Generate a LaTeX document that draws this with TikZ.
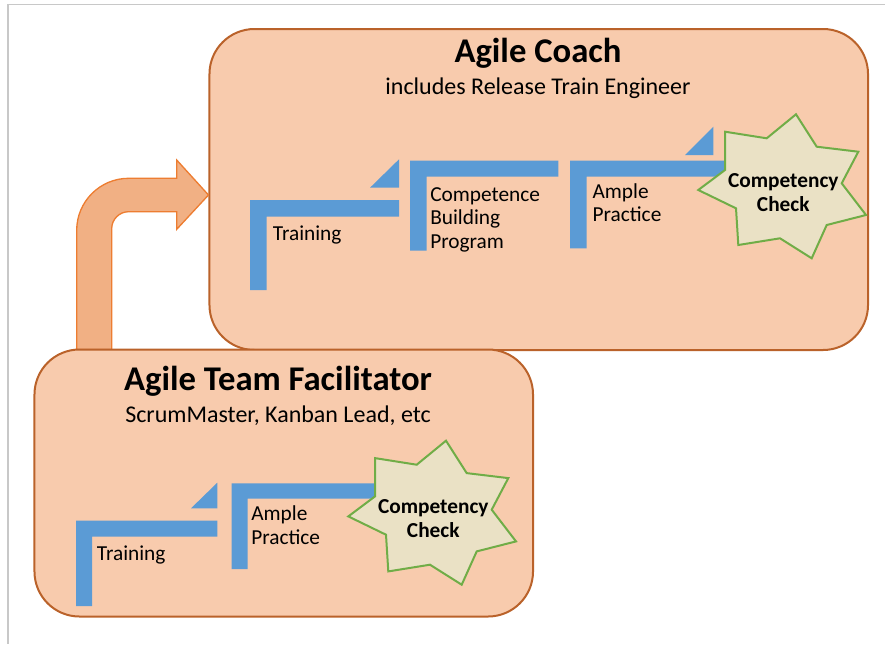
\documentclass[tikz,border=0pt]{standalone}
\usepackage{fontspec}
\setmainfont{Carlito}
\usepackage{tikz}
\definecolor{boxfill}{HTML}{F8CBAD}
\definecolor{boxline}{HTML}{BA622A}
\definecolor{arrowfill}{HTML}{F1B084}
\definecolor{arrowline}{HTML}{ED7D31}
\definecolor{stepcol}{HTML}{5B9BD5}
\definecolor{starfill}{HTML}{EAE1C5}
\definecolor{starline}{HTML}{70AD47}
\definecolor{framecol}{HTML}{C8C8C8}
\tikzset{
  rolebox/.style={draw=boxline, fill=boxfill, line width=1.5pt, rounded corners=33.75pt, inner sep=0pt},
  roletitle/.style={font=\fontsize{26}{30}\selectfont\bfseries, inner sep=0pt, anchor=base},
  rolesub/.style={font=\fontsize{18}{22}\selectfont, inner sep=0pt, anchor=base},
  steplabel/.style={font=\fontsize{16}{17.5}\selectfont, align=left, inner sep=0pt, anchor=base west},
  stepbar/.style={fill=stepcol},
  starlabel/.style={font=\fontsize{16}{18}\selectfont\bfseries, align=center, inner sep=0pt, anchor=base},
  checkstar/.pic={
    \draw[fill=starfill, draw=starline, line width=1.5pt, line join=miter]
      (13,-71.7) -- (33.7,-39.3) -- (75.3,-34.3) -- (58.7,-2.7) -- (83,29)
      -- (43.7,39) -- (28.7,72.3) -- (-3,52.3) -- (-44.7,59) -- (-47,22.3)
      -- (-84.7,4) -- (-58,-16) -- (-58,-54.3) -- (-16.3,-47.7) -- cycle;
    % base is the last line
    \node[starlabel] (-txt) at (0.3,25.3) {Competency\\Check};
  }
}

\begin{document}
\begin{tikzpicture}[x=0.75pt, y=-0.75pt]
\useasboundingbox (0,0) rectangle (885,644);

% Frame
\draw[framecol, line width=1pt] (885,4.5) -- (8,4.5) -- (8,644);

% Agile Coach
\node[rolebox, minimum width=493.9pt, minimum height=240.75pt] (coach) at (538.75,189.5) {};
\node[roletitle] (coachtitle) at (538,62) {Agile Coach};
\node[rolesub] (coachsub) at (538,94.3) {includes Release Train Engineer};

% Bent arrow
\coordinate (arrbase) at (76.7,349.5);
\coordinate (arrtip) at (coach.west |- 0,195);
\filldraw[fill=arrowfill, draw=arrowline, line width=1pt, line join=miter]
  (arrbase) -- (76.7,230.3) arc[start angle=180, end angle=270, radius=52]
  -- (176.7,178.3) -- (176.7,160) -- (arrtip) -- (176.7,229.3) -- (176.7,211.7)
  -- (128.7,211.7) arc[start angle=270, end angle=180, radius=17]
  -- (111.7,349.5) -- cycle;

% Agile Team Facilitator
\node[rolebox, minimum width=373.9pt, minimum height=200.25pt] (team) at (283.75,483) {};
\node[roletitle] (teamtitle) at (278,390) {Agile Team Facilitator};
\node[rolesub] (teamsub) at (278,422.3) {ScrumMaster, Kanban Lead, etc};

% Steps, coach
\fill[stepbar] (250,290) -- (250,200) -- (399,200) -- (399,216.5) -- (266.5,216.5) -- (266.5,290) -- cycle;
\fill[stepbar] (370,187.7) -- (399,159.3) -- (399,187.7) -- cycle;
\fill[stepbar] (410,250.7) -- (410,160.7) -- (558.3,160.7) -- (558.3,176.7) -- (426.5,176.7) -- (426.5,250.7) -- cycle;
\fill[stepbar] (570,248.3) -- (570,160.7) -- (726,160.7) -- (726,176.5) -- (586.5,176.5) -- (586.5,248.3) -- cycle;
\fill[stepbar] (685,155) -- (713.3,126.7) -- (713.3,155) -- cycle;
\node[steplabel] (train1) at (272.7,240) {Training};
\node[steplabel] (build1) at (430,248) {Competence\\Building\\Program};
\node[steplabel] (practice1) at (592.3,221.7) {Ample\\Practice};
\pic (check1) at (783,186) {checkstar};

% Steps, team
\fill[stepbar] (76,606) -- (76,520.7) -- (217.3,520.7) -- (217.3,536.5) -- (92,536.5) -- (92,606) -- cycle;
\fill[stepbar] (191,508.3) -- (217.3,482.7) -- (217.3,508.3) -- cycle;
\fill[stepbar] (231.7,569) -- (231.7,483.3) -- (376,483.3) -- (376,498.5) -- (247.7,498.5) -- (247.7,569) -- cycle;
\node[steplabel] (train2) at (96.7,560) {Training};
\node[steplabel] (practice2) at (251,544) {Ample\\Practice};
\pic (check2) at (433,512.4) {checkstar};

\end{tikzpicture}
\end{document}
